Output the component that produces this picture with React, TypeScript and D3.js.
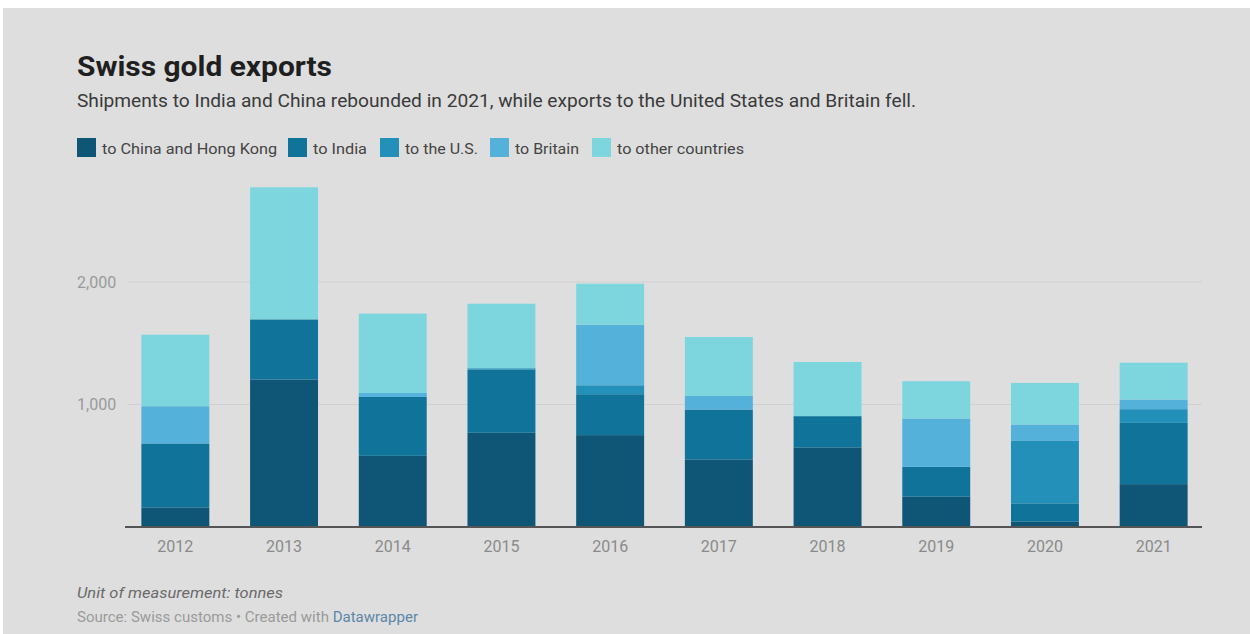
import React from "react";
import * as d3 from "d3";

const years = ["2012", "2013", "2014", "2015", "2016", "2017", "2018", "2019", "2020", "2021"];
const chinaHK = [160, 1204, 581, 769, 750, 552, 650, 247, 43, 350];
const india = [522, 491, 481, 515, 334, 407, 255, 244, 150, 500];
const usa = [0, 0, 0, 12, 73, 0, 0, 0, 510, 112];
const britain = [304, 0, 32, 0, 495, 111, 0, 395, 134, 79];
const others = [584, 1078, 648, 527, 334, 481, 442, 304, 339, 301];

const seriesKeys = ["china", "india", "us", "britain", "other"];
const seriesLabels = ["to China and Hong Kong", "to India", "to the U.S.", "to Britain", "to other countries"];
const seriesColors = ["#0f5576", "#107399", "#2290b9", "#53b1da", "#7dd6de"];
const yTicks = [1000, 2000];

const W = 1250;
const H = 634;
const FONT = "Roboto, 'Noto Sans', sans-serif";

export default function App() {
  const table = years.map((y, i) => ({
    year: y,
    china: chinaHK[i],
    india: india[i],
    us: usa[i],
    britain: britain[i],
    other: others[i],
  }));
  const stacked = d3.stack<any>().keys(seriesKeys)(table);

  const x = d3.scaleBand<string>().domain(years).range([121, 1208]).paddingInner(0.375).paddingOuter(0.1875);
  const y = d3.scaleLinear().domain([0, 3000]).range([527, 159.5]);

  const legendX = [77, 288, 380, 490, 592];
  const legendTextW = [175, 54, 73, 64, 127];

  return (
    <svg width={W} height={H} style={{ position: "absolute", left: 0, top: 0, display: "block" }} fontFamily={FONT}>
      <rect x={0} y={0} width={W} height={H} fill="#ffffff" />
      <rect x={3} y={8} width={W - 3} height={H - 8} fill="#dedede" />

      <text x={77} y={76} fontSize={27} fontWeight={700} fill="#1f1f1f" textLength={255} lengthAdjust="spacingAndGlyphs">
        Swiss gold exports
      </text>
      <text x={77} y={107} fontSize={17.5} fill="#3a3a3a" textLength={839} lengthAdjust="spacingAndGlyphs">
        Shipments to India and China rebounded in 2021, while exports to the United States and Britain fell.
      </text>

      {seriesLabels.map((lab, i) => (
        <g key={lab} transform={`translate(${legendX[i]},138)`}>
          <rect x={0} y={0} width={19} height={19} fill={seriesColors[i]} />
          <text x={25} y={15.5} fontSize={15} fill="#444" textLength={legendTextW[i]} lengthAdjust="spacingAndGlyphs">
            {lab}
          </text>
        </g>
      ))}

      {yTicks.map((t) => (
        <g key={t}>
          <line x1={128} x2={1202} y1={y(t)} y2={y(t)} stroke="#d0d0d0" strokeWidth={1} />
          <text x={77} y={y(t)} dy="0.35em" fontSize={16} fill="#9a9a9a">
            {d3.format(",")(t)}
          </text>
        </g>
      ))}

      {stacked.map((s, si) => (
        <g key={s.key} fill={seriesColors[si]}>
          {s.map((d, i) => (
            <rect
              key={years[i]}
              x={x(years[i])}
              width={x.bandwidth()}
              y={y(d[1])}
              height={Math.max(0, y(d[0]) - y(d[1]))}
            />
          ))}
        </g>
      ))}

      <line x1={125} x2={1202} y1={y(0)} y2={y(0)} stroke="#555" strokeWidth={2} />

      {years.map((yr) => (
        <text key={yr} x={(x(yr) as number) + x.bandwidth() / 2} y={552} textAnchor="middle" fontSize={16} fill="#8a8a8a">
          {yr}
        </text>
      ))}

      <text x={77} y={598} fontSize={15.5} fontStyle="italic" fill="#6a6a6a" textLength={206} lengthAdjust="spacingAndGlyphs">
        Unit of measurement: tonnes
      </text>
      <text x={77} y={622} fontSize={14} fill="#9a9a9a" textLength={341} lengthAdjust="spacingAndGlyphs">
        Source: Swiss customs • Created with <tspan fill="#5b87a8">Datawrapper</tspan>
      </text>
    </svg>
  );
}
